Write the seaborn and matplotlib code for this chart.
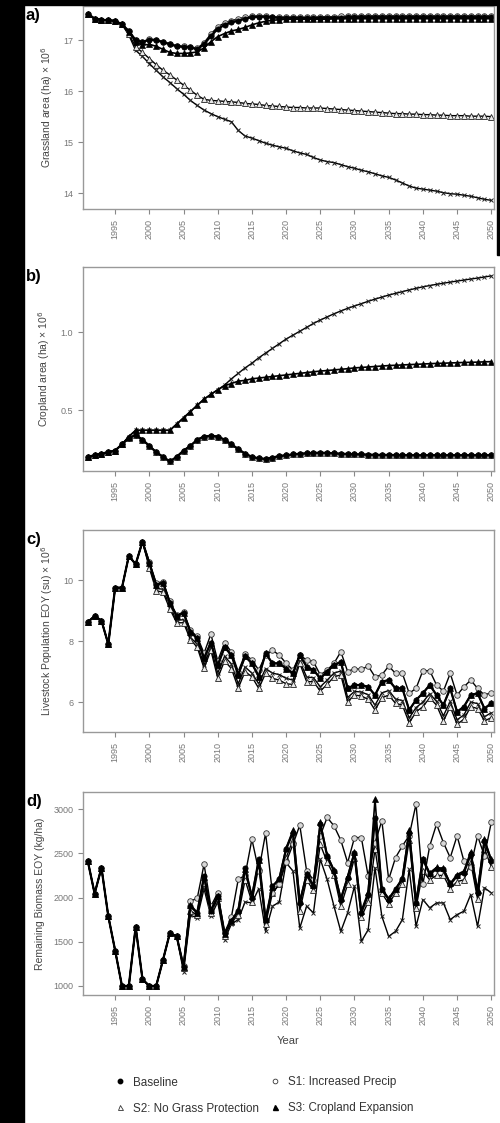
import matplotlib
matplotlib.use("Agg")
import matplotlib.pyplot as plt
from matplotlib.lines import Line2D
from matplotlib.patches import Rectangle
import seaborn as sns

YEARS = list(range(1991, 2051))

# a) grassland area (ha x 10^6)
grass_base = [17.52, 17.42, 17.40, 17.39, 17.38, 17.31, 17.18, 17.00, 16.96, 17.01,
              17.00, 16.96, 16.92, 16.88, 16.87, 16.86, 16.82, 16.92, 17.08, 17.22,
              17.30, 17.35, 17.38, 17.42, 17.45, 17.46, 17.46, 17.45, 17.44, 17.44,
              17.44, 17.44, 17.43, 17.43, 17.44, 17.44, 17.44, 17.44, 17.45, 17.45,
              17.45, 17.45, 17.45, 17.45, 17.45, 17.45, 17.45, 17.45, 17.45, 17.45,
              17.45, 17.45, 17.45, 17.45, 17.45, 17.45, 17.45, 17.45, 17.45, 17.45]
grass_s1 = [17.52, 17.42, 17.40, 17.39, 17.38, 17.31, 17.18, 17.00, 16.97, 17.02,
            17.01, 16.97, 16.93, 16.89, 16.88, 16.87, 16.84, 16.95, 17.12, 17.26,
            17.34, 17.38, 17.42, 17.45, 17.47, 17.48, 17.47, 17.46, 17.45, 17.45,
            17.45, 17.45, 17.45, 17.45, 17.46, 17.46, 17.46, 17.47, 17.47, 17.47,
            17.48, 17.48, 17.48, 17.48, 17.48, 17.48, 17.48, 17.48, 17.48, 17.48,
            17.48, 17.48, 17.48, 17.48, 17.48, 17.48, 17.48, 17.48, 17.48, 17.48]
grass_s2 = [17.52, 17.42, 17.40, 17.39, 17.38, 17.31, 17.12, 16.87, 16.76, 16.64,
            16.52, 16.41, 16.32, 16.22, 16.12, 16.02, 15.92, 15.84, 15.82, 15.81,
            15.80, 15.79, 15.78, 15.76, 15.75, 15.74, 15.72, 15.71, 15.70, 15.69,
            15.68, 15.68, 15.67, 15.67, 15.67, 15.66, 15.65, 15.64, 15.63, 15.62,
            15.61, 15.60, 15.59, 15.58, 15.57, 15.56, 15.56, 15.55, 15.55, 15.54,
            15.54, 15.53, 15.53, 15.52, 15.52, 15.52, 15.51, 15.51, 15.51, 15.50]
grass_s3 = [17.52, 17.42, 17.40, 17.39, 17.38, 17.31, 17.16, 16.96, 16.90, 16.92,
            16.88, 16.82, 16.76, 16.74, 16.74, 16.75, 16.77, 16.85, 16.97, 17.07,
            17.13, 17.18, 17.21, 17.25, 17.30, 17.34, 17.37, 17.39, 17.40, 17.41,
            17.41, 17.41, 17.41, 17.41, 17.41, 17.41, 17.42, 17.42, 17.42, 17.42,
            17.42, 17.42, 17.42, 17.42, 17.42, 17.42, 17.42, 17.42, 17.42, 17.42,
            17.42, 17.42, 17.42, 17.42, 17.42, 17.42, 17.42, 17.42, 17.42, 17.42]
grass_x = [17.52, 17.42, 17.40, 17.39, 17.38, 17.31, 17.10, 16.80, 16.68, 16.54,
           16.41, 16.28, 16.17, 16.05, 15.94, 15.82, 15.72, 15.63, 15.56, 15.50,
           15.45, 15.40, 15.23, 15.12, 15.08, 15.03, 14.98, 14.94, 14.91, 14.88,
           14.83, 14.79, 14.76, 14.70, 14.65, 14.62, 14.60, 14.56, 14.52, 14.49,
           14.45, 14.42, 14.38, 14.34, 14.31, 14.26, 14.20, 14.14, 14.10, 14.08,
           14.06, 14.04, 14.01, 13.99, 13.98, 13.96, 13.94, 13.91, 13.88, 13.86]

# b) cropland area (ha x 10^6)
crop_low = [0.20, 0.21, 0.22, 0.23, 0.24, 0.28, 0.32, 0.34, 0.31, 0.27,
            0.23, 0.20, 0.17, 0.20, 0.24, 0.27, 0.31, 0.33, 0.335, 0.33,
            0.31, 0.28, 0.25, 0.22, 0.20, 0.19, 0.187, 0.195, 0.205, 0.21,
            0.215, 0.22, 0.222, 0.225, 0.226, 0.225, 0.222, 0.22, 0.218, 0.216,
            0.215, 0.214, 0.213, 0.212, 0.212, 0.211, 0.211, 0.21, 0.21, 0.21,
            0.21, 0.21, 0.21, 0.21, 0.21, 0.21, 0.21, 0.21, 0.21, 0.21]
crop_s3 = [0.20, 0.21, 0.22, 0.23, 0.24, 0.28, 0.33, 0.37, 0.37, 0.37,
           0.37, 0.37, 0.37, 0.41, 0.45, 0.49, 0.53, 0.57, 0.60, 0.63,
           0.655, 0.67, 0.685, 0.69, 0.70, 0.705, 0.71, 0.715, 0.72, 0.725,
           0.73, 0.735, 0.74, 0.745, 0.75, 0.753, 0.757, 0.761, 0.765, 0.77,
           0.773, 0.776, 0.779, 0.782, 0.785, 0.787, 0.789, 0.791, 0.793, 0.795,
           0.797, 0.799, 0.80, 0.802, 0.803, 0.805, 0.806, 0.807, 0.809, 0.81]
crop_x = [0.20, 0.21, 0.22, 0.23, 0.24, 0.28, 0.33, 0.37, 0.37, 0.37,
          0.37, 0.37, 0.37, 0.41, 0.45, 0.49, 0.53, 0.57, 0.60, 0.63,
          0.66, 0.70, 0.735, 0.77, 0.80, 0.835, 0.865, 0.895, 0.925, 0.955,
          0.98, 1.005, 1.03, 1.055, 1.077, 1.097, 1.117, 1.135, 1.152, 1.167,
          1.182, 1.197, 1.211, 1.224, 1.237, 1.248, 1.259, 1.27, 1.28, 1.29,
          1.298, 1.306, 1.313, 1.32, 1.327, 1.333, 1.34, 1.346, 1.353, 1.36]

# c) livestock population EOY (su x 10^6)
lv_common = [8.62, 8.82, 8.67, 7.90, 9.75, 9.75, 10.79, 10.52, 11.26]
lv_base = lv_common + [10.55, 9.84, 9.91, 9.26, 8.82, 8.93, 8.30, 8.09, 7.44, 7.95,
                       7.20, 7.80, 7.54, 6.90, 7.50,
                       7.27, 6.83, 7.60, 7.27, 7.27, 7.10, 6.94, 7.54, 7.16, 7.05,
                       6.78, 7.00, 7.21, 7.32, 6.45, 6.56, 6.56, 6.50, 6.23, 6.67,
                       6.72, 6.45, 6.45, 5.74, 6.07, 6.29, 6.56, 6.23, 5.90, 6.45,
                       5.68, 5.85, 6.23, 6.29, 5.79, 5.96]
lv_s1 = lv_common + [10.60, 9.90, 9.95, 9.30, 8.85, 8.95, 8.35, 8.15, 7.60, 8.23,
                     7.35, 7.94, 7.65, 7.00, 7.57,
                     7.38, 7.05, 7.54, 7.70, 7.54, 7.27, 7.05, 7.54, 7.38, 7.32,
                     6.89, 7.05, 7.27, 7.65, 7.00, 7.10, 7.07, 7.18, 6.83, 6.89,
                     7.18, 6.94, 6.94, 6.29, 6.45, 7.03, 7.03, 6.56, 6.36, 6.94,
                     6.23, 6.50, 6.72, 6.45, 6.23, 6.31]
lv_s2 = lv_common + [10.40, 9.65, 9.60, 9.05, 8.60, 8.60, 8.05, 7.80, 7.11, 7.70,
                     6.79, 7.35, 7.10, 6.46, 7.00,
                     6.83, 6.45, 6.94, 6.78, 6.72, 6.60, 6.58, 7.27, 6.67, 6.67,
                     6.36, 6.58, 6.83, 6.89, 6.01, 6.23, 6.20, 6.09, 5.74, 6.14,
                     6.23, 5.96, 5.90, 5.32, 5.68, 5.85, 6.14, 5.90, 5.38, 5.85,
                     5.27, 5.44, 5.85, 5.79, 5.38, 5.49]
lv_x = lv_common + [10.45, 9.72, 9.70, 9.12, 8.68, 8.70, 8.12, 7.90, 7.22, 7.80,
                    6.95, 7.50, 7.25, 6.60, 7.15,
                    6.95, 6.60, 7.10, 6.95, 6.90, 6.78, 6.72, 7.35, 6.82, 6.80,
                    6.50, 6.72, 6.95, 7.02, 6.15, 6.35, 6.33, 6.24, 5.90, 6.30,
                    6.38, 6.10, 6.05, 5.48, 5.82, 6.00, 6.28, 6.02, 5.55, 6.02,
                    5.42, 5.58, 6.00, 5.95, 5.52, 5.65]

# d) remaining biomass EOY (kg/ha)
bm_common = [2412, 2045, 2337, 1788, 1401, 1000, 1000, 1667, 1076, 1000,
             1000, 1295, 1598, 1561]
bm_base = bm_common + [1220, 1900, 1826, 2242, 1845, 2015, 1598, 1731, 1845, 2337,
                       2000, 2432, 1750, 2129, 2205, 2546, 2735, 1939, 2261, 2129,
                       2830, 2470, 2299, 1977, 2224, 2508, 1826, 2034, 2900, 2091,
                       1977, 2091, 2205, 2735, 1939, 2432, 2261, 2326, 2318, 2148,
                       2243, 2280, 2489, 2053, 2640, 2413]
bm_s1 = bm_common + [1230, 1960, 1990, 2375, 1900, 2053, 1600, 1780, 2205, 2250,
                     2659, 2300, 2727, 2050, 2150, 2400, 2600, 2818, 2300, 2200,
                     2700, 2905, 2811, 2648, 2394, 2678, 2678, 2243, 2620, 2868,
                     2205, 2451, 2583, 2700, 3057, 2150, 2583, 2830, 2621, 2451,
                     2697, 2413, 2350, 2697, 2470, 2849]
bm_s2 = bm_common + [1200, 1850, 1800, 2165, 1820, 1990, 1570, 1720, 1800, 2200,
                     1950, 2350, 1700, 2050, 2150, 2450, 2650, 1850, 2200, 2080,
                     2600, 2400, 2250, 1900, 2150, 2450, 1780, 1950, 2550, 2050,
                     1930, 2050, 2150, 2650, 1880, 2300, 2200, 2250, 2250, 2100,
                     2180, 2200, 2400, 1980, 2550, 2350]
bm_s3 = bm_common + [1220, 1920, 1830, 2230, 1860, 2020, 1590, 1740, 1860, 2320,
                     2020, 2420, 1760, 2120, 2220, 2560, 2760, 1960, 2270, 2140,
                     2850, 2480, 2310, 1990, 2240, 2520, 1850, 2060, 3110, 2100,
                     1990, 2100, 2220, 2760, 1950, 2440, 2280, 2340, 2330, 2160,
                     2260, 2300, 2520, 2080, 2660, 2430]
bm_x = bm_common + [1163, 1800, 1770, 2100, 1788, 1950, 1523, 1700, 1750, 1950,
                    1939, 2100, 1617, 1900, 1950, 2394, 2300, 1655, 1902, 1826,
                    2432, 2205, 1902, 1617, 1826, 2129, 1504, 1636, 2337, 1788,
                    1561, 1617, 1750, 2318, 1674, 1977, 1883, 1939, 1939, 1750,
                    1807, 1845, 2034, 1674, 2110, 2053]

PANELS = [
    ("a)", "Grassland area (ha) \u00d7 10$^6$",
     {"x": grass_x, "s2": grass_s2, "s1": grass_s1, "s3": grass_s3, "base": grass_base},
     (13.69, 17.67), [14, 15, 16, 17], ["14", "15", "16", "17"]),
    ("b)", "Cropland area (ha) \u00d7 10$^6$",
     {"x": crop_x, "s2": crop_low, "s1": crop_low, "s3": crop_s3, "base": crop_low},
     (0.109, 1.417), [0.5, 1.0], ["0.5", "1.0"]),
    ("c)", "Livestock Population EOY (su) \u00d7 10$^6$",
     {"x": lv_x, "s2": lv_s2, "s1": lv_s1, "s3": lv_base, "base": lv_base},
     (5.02, 11.64), [6, 8, 10], ["6", "8", "10"]),
    ("d)", "Remaining Biomass EOY (kg/ha)",
     {"x": bm_x, "s2": bm_s2, "s1": bm_s1, "s3": bm_s3, "base": bm_base},
     (898, 3193), [1000, 1500, 2000, 2500, 3000], ["1000", "1500", "2000", "2500", "3000"]),
]

STYLES = {
    "x": dict(marker="x", markersize=3.5, markeredgewidth=0.7, lw=1.0,
              markeredgecolor="#222", markerfacecolor="none"),
    "s2": dict(marker="^", markersize=4.0, markeredgewidth=0.6, lw=1.0,
               markeredgecolor="#222", markerfacecolor="#e8e8e8"),
    "s1": dict(marker="o", markersize=4.0, markeredgewidth=0.6, lw=1.0,
               markeredgecolor="#333", markerfacecolor="#d8d8d8"),
    "s3": dict(marker="^", markersize=4.0, markeredgewidth=0.5, lw=1.2,
               markeredgecolor="black", markerfacecolor="black"),
    "base": dict(marker="o", markersize=3.8, markeredgewidth=0.5, lw=1.6,
                 markeredgecolor="black", markerfacecolor="black"),
}

sns.set_style("white")
plt.rcParams["font.family"] = ["Liberation Sans", "DejaVu Sans"]

fig = plt.figure(figsize=(5.0, 11.23), dpi=100)
fig.patch.set_facecolor("white")

left, width = 83 / 500, 411 / 500
tops = [6, 267, 530, 792]
bottoms = [209, 471, 732, 995]
H = 1123

for (lab, ylab, series, ylim, yt, ytl), top, bot in zip(PANELS, tops, bottoms):
    ax = fig.add_axes([left, 1 - bot / H, width, (bot - top) / H])
    for key in ["x", "s2", "s1", "s3", "base"]:
        sns.lineplot(x=YEARS, y=series[key], ax=ax, color="black", **STYLES[key])
    ax.set_xlim(1990.3, 2050.4)
    ax.set_ylim(*ylim)
    ax.set_xticks(range(1995, 2051, 5))
    ax.set_xticklabels([str(y) for y in range(1995, 2051, 5)], rotation=90)
    ax.set_yticks(yt)
    ax.set_yticklabels(ytl)
    ax.tick_params(axis="both", colors="#888", labelcolor="#777", labelsize=6.5,
                   length=3.5, width=0.8, direction="out", bottom=True, left=True)
    for sp in ax.spines.values():
        sp.set_color("#999")
        sp.set_linewidth(1.0)
    ax.set_ylabel(ylab, fontsize=7.5, color="#444", labelpad=6)
    ax.set_xlabel("")
    fig.text(26 / 500, 1 - (top + 2) / H, lab, fontsize=12, fontweight="bold",
             color="black", va="top", ha="left")

ax.set_xlabel("Year", fontsize=8, color="#444", labelpad=8)

handles = [
    Line2D([], [], ls="none", marker="o", markersize=3.2, color="black"),
    Line2D([], [], ls="none", marker="^", markersize=3.6, markerfacecolor="white",
           markeredgecolor="#333", markeredgewidth=0.6),
    Line2D([], [], ls="none", marker="o", markersize=3.4, markerfacecolor="white",
           markeredgecolor="#333", markeredgewidth=0.6),
    Line2D([], [], ls="none", marker="^", markersize=3.6, color="black"),
]
labels = ["Baseline", "S2: No Grass Protection", "S1: Increased Precip",
          "S3: Cropland Expansion"]
leg = fig.legend(handles, labels, ncol=2, frameon=False, loc="upper left",
                 bbox_to_anchor=(104 / 500, 1 - 1066 / H), fontsize=8.4,
                 handlelength=0.9, handletextpad=0.7, columnspacing=0.9,
                 labelspacing=1.2)
for t in leg.get_texts():
    t.set_color("#333")

# black margins of the scanned figure
fig.patches.append(Rectangle((0, 0), 24 / 500, 1, transform=fig.transFigure,
                             color="black", zorder=10))
fig.patches.append(Rectangle((0, 1 - 5 / H), 1, 5 / H, transform=fig.transFigure,
                             color="black", zorder=10))
fig.patches.append(Rectangle((497 / 500, 1 - 255 / H), 3 / 500, 255 / H,
                             transform=fig.transFigure, color="black", zorder=10))

fig.savefig("out.png", dpi=100, facecolor="white")
plt.close(fig)
